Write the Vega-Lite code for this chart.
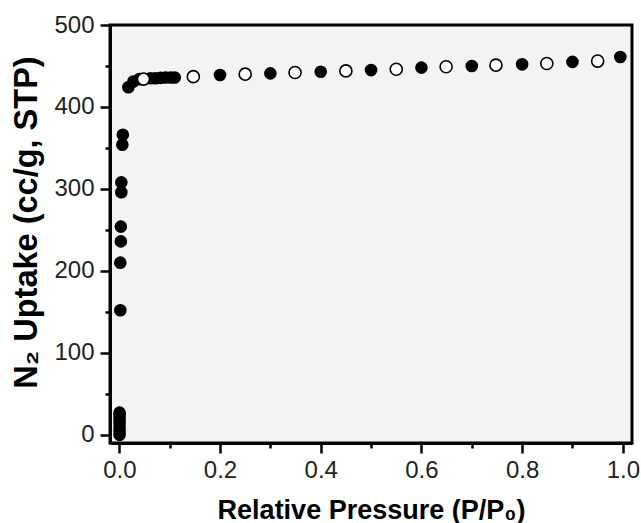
{
  "$schema": "https://vega.github.io/schema/vega-lite/v6.json",
  "width": 522,
  "height": 418,
  "autosize": "none",
  "padding": {"left": 110, "top": 25, "right": 9, "bottom": 80},
  "background": "white",
  "config": {
    "view": {"fill": "#f3f3f3", "stroke": "black", "strokeWidth": 3},
    "axis": {
      "labelFont": "Liberation Sans",
      "titleFont": "Liberation Sans",
      "labelFontSize": 24,
      "labelColor": "#222",
      "titleColor": "black",
      "titleFontWeight": "bold",
      "domainColor": "black",
      "domainWidth": 3,
      "tickColor": "black",
      "tickWidth": 2.5,
      "grid": false
    }
  },
  "datasets": {
    "ads": [
      {"p": 0.0005, "v": 0}, {"p": 0.0005, "v": 4}, {"p": 0.0005, "v": 9}, {"p": 0.0005, "v": 14},
      {"p": 0.0005, "v": 19}, {"p": 0.0005, "v": 24}, {"p": 0.0005, "v": 27},
      {"p": 0.002, "v": 152}, {"p": 0.002, "v": 210}, {"p": 0.003, "v": 236}, {"p": 0.003, "v": 254},
      {"p": 0.004, "v": 296}, {"p": 0.004, "v": 308}, {"p": 0.006, "v": 354}, {"p": 0.007, "v": 366},
      {"p": 0.018, "v": 424}, {"p": 0.028, "v": 431}, {"p": 0.04, "v": 434},
      {"p": 0.062, "v": 435}, {"p": 0.072, "v": 435}, {"p": 0.082, "v": 435.5}, {"p": 0.092, "v": 436},
      {"p": 0.102, "v": 436}, {"p": 0.11, "v": 436},
      {"p": 0.2, "v": 439}, {"p": 0.3, "v": 441}, {"p": 0.4, "v": 443}, {"p": 0.5, "v": 445},
      {"p": 0.6, "v": 448}, {"p": 0.7, "v": 450}, {"p": 0.8, "v": 452}, {"p": 0.9, "v": 455},
      {"p": 0.995, "v": 461}
    ],
    "des": [
      {"p": 0.048, "v": 434}, {"p": 0.147, "v": 437}, {"p": 0.25, "v": 440}, {"p": 0.349, "v": 442},
      {"p": 0.45, "v": 444}, {"p": 0.55, "v": 446}, {"p": 0.649, "v": 449}, {"p": 0.748, "v": 451},
      {"p": 0.849, "v": 453}, {"p": 0.95, "v": 456}
    ]
  },
  "layer": [
    {
      "data": {"name": "ads"},
      "mark": {"type": "point", "shape": "circle", "filled": true, "color": "black", "size": 160, "opacity": 1},
      "encoding": {
        "x": {
          "field": "p", "type": "quantitative",
          "scale": {"domain": [-0.0185, 1.0182], "nice": false, "zero": false},
          "axis": {
            "orient": "bottom",
            "values": [0, 0.2, 0.4, 0.6, 0.8, 1.0],
            "format": ".1f",
            "tickSize": 10,
            "labelPadding": 5,
            "title": "Relative Pressure (P/P₀)",
            "titleFontSize": 27,
            "titlePadding": 15
          }
        },
        "y": {
          "field": "v", "type": "quantitative",
          "scale": {"domain": [-10, 500], "nice": false, "zero": false},
          "axis": {
            "orient": "left",
            "values": [0, 100, 200, 300, 400, 500],
            "tickSize": 10,
            "labelPadding": 6,
            "title": "N₂ Uptake (cc/g, STP)",
            "titleFontSize": 32.5,
            "titlePadding": 10,
            "titleY": 197
          }
        }
      }
    },
    {
      "data": {"name": "des"},
      "mark": {"type": "point", "shape": "circle", "filled": true, "fill": "white", "stroke": "black", "strokeWidth": 1.6, "size": 145, "opacity": 1},
      "encoding": {
        "x": {
          "field": "p", "type": "quantitative",
          "scale": {"domain": [-0.0185, 1.0182], "nice": false, "zero": false},
          "axis": {
            "orient": "bottom",
            "values": [0.1, 0.3, 0.5, 0.7, 0.9],
            "labels": false,
            "domain": false,
            "tickSize": 5,
            "title": null
          }
        },
        "y": {
          "field": "v", "type": "quantitative",
          "scale": {"domain": [-10, 500], "nice": false, "zero": false},
          "axis": {
            "orient": "left",
            "values": [50, 150, 250, 350, 450],
            "labels": false,
            "domain": false,
            "tickSize": 5,
            "title": null
          }
        }
      }
    }
  ],
  "resolve": {"axis": {"x": "independent", "y": "independent"}}
}
